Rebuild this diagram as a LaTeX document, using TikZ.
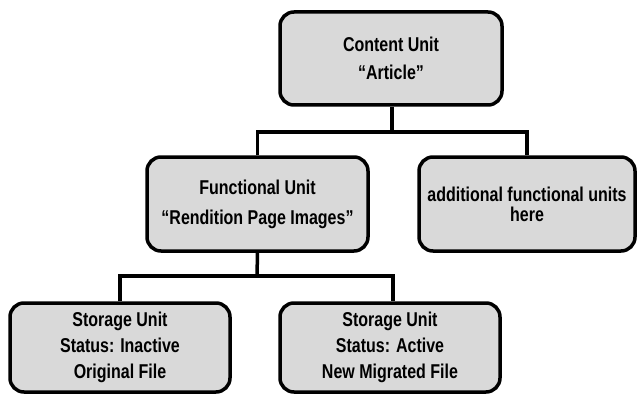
\documentclass[tikz,border=0pt]{standalone}
\usepackage{fontspec}
\setmainfont{Liberation Sans}[BoldFont={Liberation Sans Bold},BoldFeatures={FakeStretch=0.8}]
\begin{document}
\begin{tikzpicture}[x=1pt,y=-1pt,
  unitbox/.style={draw=black,line width=3.5pt,fill=boxgray,rounded corners=14pt,
    inner sep=0pt,align=center,font=\bfseries\fontsize{20}{#1}\selectfont},
  link/.style={draw=black,line width=3.5pt}]
\definecolor{boxgray}{HTML}{D9D9D9}
\useasboundingbox (0,0) rectangle (639,401);
\node[unitbox=28,minimum width=222pt,minimum height=93pt] (cu) at (391,58.5)
  {Content Unit\\ “Article”};
\node[unitbox=30,minimum width=221pt,minimum height=94pt] (fu) at (257.5,204)
  {Functional Unit\\ “Rendition Page Images”};
\node[unitbox=20,minimum width=216pt,minimum height=94pt] (au) at (527,204)
  {additional functional units\\ here};
\node[unitbox=26,minimum width=220pt,minimum height=89pt] (s1) at (120,347.5)
  {Storage Unit\\ Status: Inactive\\ Original File};
\node[unitbox=26,minimum width=220pt,minimum height=89pt] (s2) at (390,347.5)
  {Storage Unit\\ Status: Active\\ New Migrated File};
\coordinate (j1) at (392,132);
\coordinate (j2) at (257,276);
\draw[link] (cu.south -| j1) -- (j1);
\draw[link] (fu.north) |- (j1) -| (au.north);
\draw[link] (fu.south) -- (j2);
\draw[link] (s1.north) |- (j2) -| ([xshift=3pt]s2.north);
\end{tikzpicture}
\end{document}
